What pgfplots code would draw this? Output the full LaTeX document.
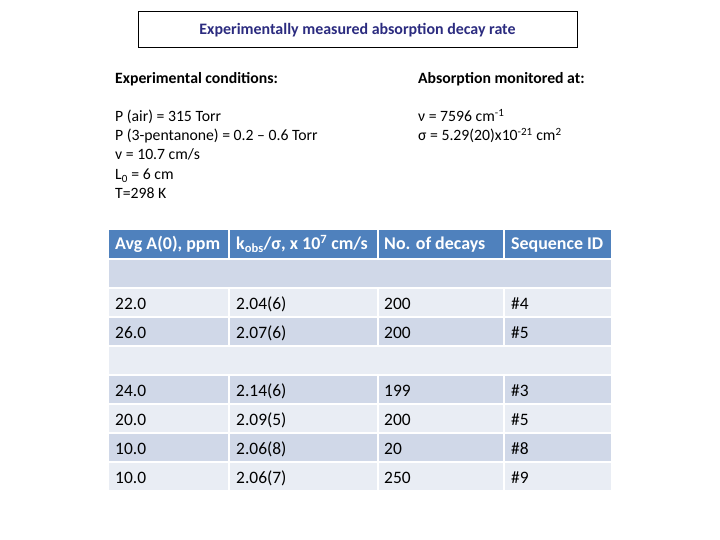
\documentclass[border=0pt]{standalone}
\usepackage{pgfplots}
\pgfplotsset{compat=1.18}
\usepackage{fontspec}
\setmainfont{Carlito}
\definecolor{titleblue}{HTML}{2B2B7F}
\definecolor{headblue}{HTML}{4F81BD}
\definecolor{rowdark}{HTML}{D0D8E8}
\definecolor{rowlight}{HTML}{E9EDF4}

\pgfplotsset{
  cellcol/.style={only marks, mark=none, nodes near coords,
    point meta=explicit symbolic,
    every node near coord/.append style={anchor=base west, inner sep=0pt,
      font=\fontsize{17.5}{20}\selectfont, text=black}},
  sepline/.style={draw=white, line width=2bp},
}
\newcommand\condfont{\fontsize{15.8}{19}\selectfont}

\begin{document}
\begin{tikzpicture}
\begin{axis}[
  width=720bp, height=540bp, scale only axis,
  xmin=0, xmax=720, ymin=0, ymax=540, y dir=reverse,
  hide axis, clip=false,
]
% page corners
\addplot[draw=none] coordinates {(0,0) (720,540)};

% title box
\addplot[draw=black, line width=1bp] coordinates {(138,12) (577,12) (577,48) (138,48) (138,12)};
\node[anchor=base, inner sep=0pt, text=titleblue, font=\fontsize{16}{19}\selectfont\bfseries]
  at (axis cs:357.5,35) {Experimentally measured absorption decay rate};

% conditions
\node[anchor=base west, inner sep=0pt, font=\condfont\bfseries]
  at (axis cs:115,84) {Experimental conditions:};
\node[anchor=base west, inner sep=0pt, font=\condfont\bfseries]
  at (axis cs:418,84) {Absorption monitored at:};
\node[anchor=base west, inner sep=0pt, font=\condfont] at (axis cs:115,122) {P (air) = 315 Torr};
\node[anchor=base west, inner sep=0pt, font=\condfont] at (axis cs:115,141) {P (3-pentanone) = 0.2 -- 0.6 Torr};
\node[anchor=base west, inner sep=0pt, font=\condfont] at (axis cs:115,160) {v = 10.7 cm/s};
\node[anchor=base west, inner sep=0pt, font=\condfont] at (axis cs:115,180) {L\textsubscript{0} = 6 cm};
\node[anchor=base west, inner sep=0pt, font=\condfont] at (axis cs:115,199) {T=298 K};
\node[anchor=base west, inner sep=0pt, font=\condfont] at (axis cs:418,122) {ν = 7596 cm\textsuperscript{-1}};
\node[anchor=base west, inner sep=0pt, font=\condfont] at (axis cs:418,141) {σ = 5.29(20)x10\textsuperscript{-21} cm\textsuperscript{2}};

% table cells
\addplot[fill=headblue, draw=none] coordinates {(109,230) (611,230) (611,258) (109,258)};
\addplot[fill=rowdark, draw=none] coordinates {(109,260) (611,260) (611,287) (109,287)};
\addplot[fill=rowlight, draw=none] coordinates {(109,289) (611,289) (611,316) (109,316)};
\addplot[fill=rowdark, draw=none] coordinates {(109,318) (611,318) (611,345) (109,345)};
\addplot[fill=rowlight, draw=none] coordinates {(109,347) (611,347) (611,374) (109,374)};
\addplot[fill=rowdark, draw=none] coordinates {(109,376) (611,376) (611,403) (109,403)};
\addplot[fill=rowlight, draw=none] coordinates {(109,405) (611,405) (611,432) (109,432)};
\addplot[fill=rowdark, draw=none] coordinates {(109,434) (611,434) (611,461) (109,461)};
\addplot[fill=rowlight, draw=none] coordinates {(109,463) (611,463) (611,490) (109,490)};
% column separators (not through the empty rows)
\addplot[sepline] coordinates {(229,229) (229,259)};
\addplot[sepline] coordinates {(378,229) (378,259)};
\addplot[sepline] coordinates {(504,229) (504,259)};
\addplot[sepline] coordinates {(229,288) (229,346)};
\addplot[sepline] coordinates {(378,288) (378,346)};
\addplot[sepline] coordinates {(504,288) (504,346)};
\addplot[sepline] coordinates {(229,375) (229,491)};
\addplot[sepline] coordinates {(378,375) (378,491)};
\addplot[sepline] coordinates {(504,375) (504,491)};

% header
\node[anchor=base west, inner sep=0pt, text=white, font=\fontsize{18}{21}\selectfont\bfseries] at (axis cs:115,250) {Avg A(0), ppm};
\node[anchor=base west, inner sep=0pt, text=white, font=\fontsize{18}{21}\selectfont\bfseries] at (axis cs:236,250) {k\textsubscript{obs}/σ, x 10\textsuperscript{7} cm/s};
\node[anchor=base west, inner sep=0pt, text=white, font=\fontsize{18}{21}\selectfont\bfseries] at (axis cs:384,250) {No. of decays};
\node[anchor=base west, inner sep=0pt, text=white, font=\fontsize{18}{21}\selectfont\bfseries] at (axis cs:511,250) {Sequence ID};

% Avg A(0), ppm
\addplot[cellcol] coordinates {
  (115,309) [22.0]
  (115,338) [26.0]
  (115,396) [24.0]
  (115,425) [20.0]
  (115,454) [10.0]
  (115,483) [10.0]
};
% kobs/sigma
\addplot[cellcol] coordinates {
  (236,309) [2.04(6)]
  (236,338) [2.07(6)]
  (236,396) [2.14(6)]
  (236,425) [2.09(5)]
  (236,454) [2.06(8)]
  (236,483) [2.06(7)]
};
% number of decays
\addplot[cellcol] coordinates {
  (384,309) [200]
  (384,338) [200]
  (384,396) [199]
  (384,425) [200]
  (384,454) [20]
  (384,483) [250]
};
% sequence ID
\addplot[cellcol] coordinates {
  (511,309) [\#4]
  (511,338) [\#5]
  (511,396) [\#3]
  (511,425) [\#5]
  (511,454) [\#8]
  (511,483) [\#9]
};
\end{axis}
\end{tikzpicture}
\end{document}
